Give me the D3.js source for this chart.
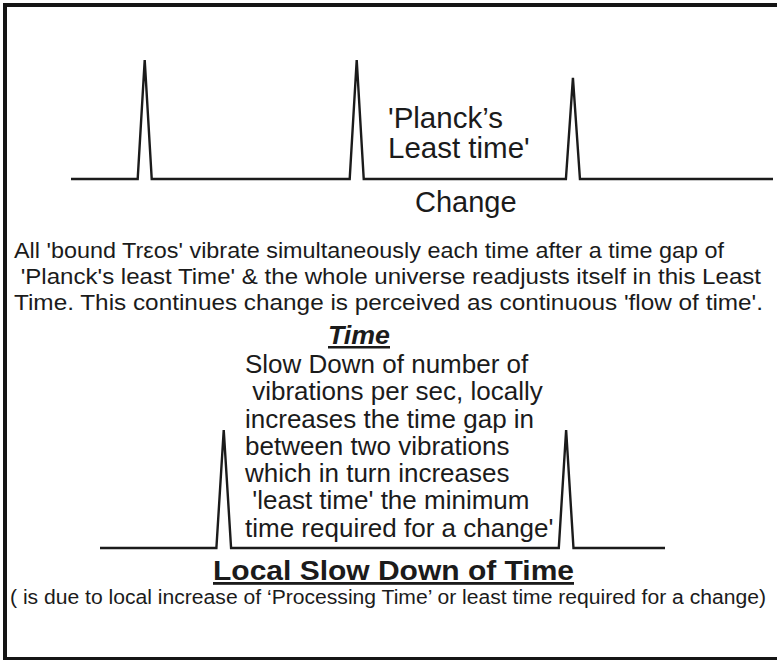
<!DOCTYPE html>
<html>
<head>
<meta charset="utf-8">
<script src="https://cdn.jsdelivr.net/npm/d3@7"></script>
<style>
  html, body { margin: 0; padding: 0; background: #fff; }
  svg { display: block; }
  text { white-space: pre; }
</style>
</head>
<body>
<svg id="chart" width="777" height="663"></svg>
<script>
// ---------------- data ----------------
// top time line: uniform vibrations ("Planck's least time")
const topDomain = [0, 10];
const topSpikeTimes = [1.05, 4.07, 7.15];
const topSpikeHeights = [1.0, 1.0, 0.85];
const topSpikeHalfWidth = 0.1;

// bottom time line: slowed-down vibrations
const bottomDomain = [0, 10];
const bottomSpikeTimes = [2.19, 8.25];
const bottomSpikeHeights = [1.0, 1.0];
const bottomSpikeHalfWidth = 0.13;

const topLabelLines = ["'Planck\u2019s", "Least time'"];
const changeLabel = "Change";
const paragraphLines = [
  "All 'bound Tr\u03b5os' vibrate simultaneously each time after a time gap of",
  " 'Planck's least Time' & the whole universe readjusts itself in this Least",
  "Time. This continues change is perceived as continuous 'flow of time'."
];
const timeTitle = "Time";
const noteLines = [
  "Slow Down of number of",
  " vibrations per sec, locally",
  "increases the time gap in",
  "between two vibrations",
  "which in turn increases",
  " 'least time' the minimum",
  "time required for a change'"
];
const footerTitle = "Local Slow Down of Time";
const footerNote = "( is due to local increase of \u2018Processing Time\u2019 or least time required for a change)";

// ---------------- drawing ----------------
const svg = d3.select("#chart");
const ink = "#1b1b1b";
const sans = "'Liberation Sans', Arial, Helvetica, sans-serif";

// frame (open on the right)
const frame = svg.append("g").attr("stroke", "#151515").attr("fill", "none");
frame.append("line").attr("x1", 3).attr("x2", 777).attr("y1", 5).attr("y2", 5).attr("stroke-width", 4);
frame.append("line").attr("x1", 5).attr("x2", 5).attr("y1", 3).attr("y2", 660).attr("stroke-width", 4);
frame.append("line").attr("x1", 3).attr("x2", 777).attr("y1", 658.5).attr("y2", 658.5).attr("stroke-width", 3);

function spikePoints(domain, times, heights, hw) {
  const pts = [[domain[0], 0]];
  times.forEach((t, i) => {
    pts.push([t - hw, 0], [t, heights[i]], [t + hw, 0]);
  });
  pts.push([domain[1], 0]);
  return pts;
}

// top timeline
const xTop = d3.scaleLinear().domain(topDomain).range([71, 773]);
const yTop = d3.scaleLinear().domain([0, 1]).range([179, 60]);
const lineTop = d3.line().x(d => xTop(d[0])).y(d => yTop(d[1]));
svg.append("path")
  .datum(spikePoints(topDomain, topSpikeTimes, topSpikeHeights, topSpikeHalfWidth))
  .attr("d", lineTop)
  .attr("fill", "none").attr("stroke", ink)
  .attr("stroke-width", 2.4).attr("stroke-linejoin", "miter").attr("stroke-miterlimit", 6);

// bottom timeline
const xBot = d3.scaleLinear().domain(bottomDomain).range([100, 665]);
const yBot = d3.scaleLinear().domain([0, 1]).range([548, 430]);
const lineBot = d3.line().x(d => xBot(d[0])).y(d => yBot(d[1]));
svg.append("path")
  .datum(spikePoints(bottomDomain, bottomSpikeTimes, bottomSpikeHeights, bottomSpikeHalfWidth))
  .attr("d", lineBot)
  .attr("fill", "none").attr("stroke", ink)
  .attr("stroke-width", 2.4).attr("stroke-linejoin", "miter").attr("stroke-miterlimit", 6);

// "'Planck's Least time'"
svg.append("g").selectAll("text").data(topLabelLines).join("text")
  .attr("x", 388).attr("y", (d, i) => 128 + i * 30)
  .attr("font-family", sans).attr("font-size", 29.5).attr("fill", ink)
  .text(d => d);

// "Change"
svg.append("text")
  .attr("x", 415).attr("y", 212)
  .attr("font-family", sans).attr("font-size", 29).attr("fill", ink)
  .text(changeLabel);

// paragraph
const paraWidths = [710, 747, 749];
svg.append("g").selectAll("text").data(paragraphLines).join("text")
  .attr("x", 14).attr("y", (d, i) => 258 + i * 25.8)
  .attr("font-family", sans).attr("font-size", 21.5).attr("fill", ink)
  .attr("textLength", (d, i) => paraWidths[i]).attr("lengthAdjust", "spacingAndGlyphs")
  .text(d => d);

// "Time" title
svg.append("text")
  .attr("x", 328).attr("y", 344)
  .attr("font-family", sans).attr("font-size", 25).attr("font-weight", "bold")
  .attr("font-style", "italic").attr("text-decoration", "underline").attr("fill", ink)
  .attr("textLength", 62).attr("lengthAdjust", "spacingAndGlyphs")
  .text(timeTitle);

// explanation lines
svg.append("g").selectAll("text").data(noteLines).join("text")
  .attr("x", 245).attr("y", (d, i) => 373 + i * 27.25)
  .attr("font-family", sans).attr("font-size", 26).attr("fill", ink)
  .text(d => d);

// footer title
svg.append("text")
  .attr("x", 213).attr("y", 580)
  .attr("font-family", sans).attr("font-size", 28).attr("font-weight", "bold")
  .attr("text-decoration", "underline").attr("fill", ink)
  .attr("textLength", 361).attr("lengthAdjust", "spacingAndGlyphs")
  .text(footerTitle);

// footer note
svg.append("text")
  .attr("x", 10).attr("y", 604)
  .attr("font-family", sans).attr("font-size", 20).attr("fill", ink)
  .attr("textLength", 756).attr("lengthAdjust", "spacingAndGlyphs")
  .text(footerNote);
</script>
</body>
</html>
